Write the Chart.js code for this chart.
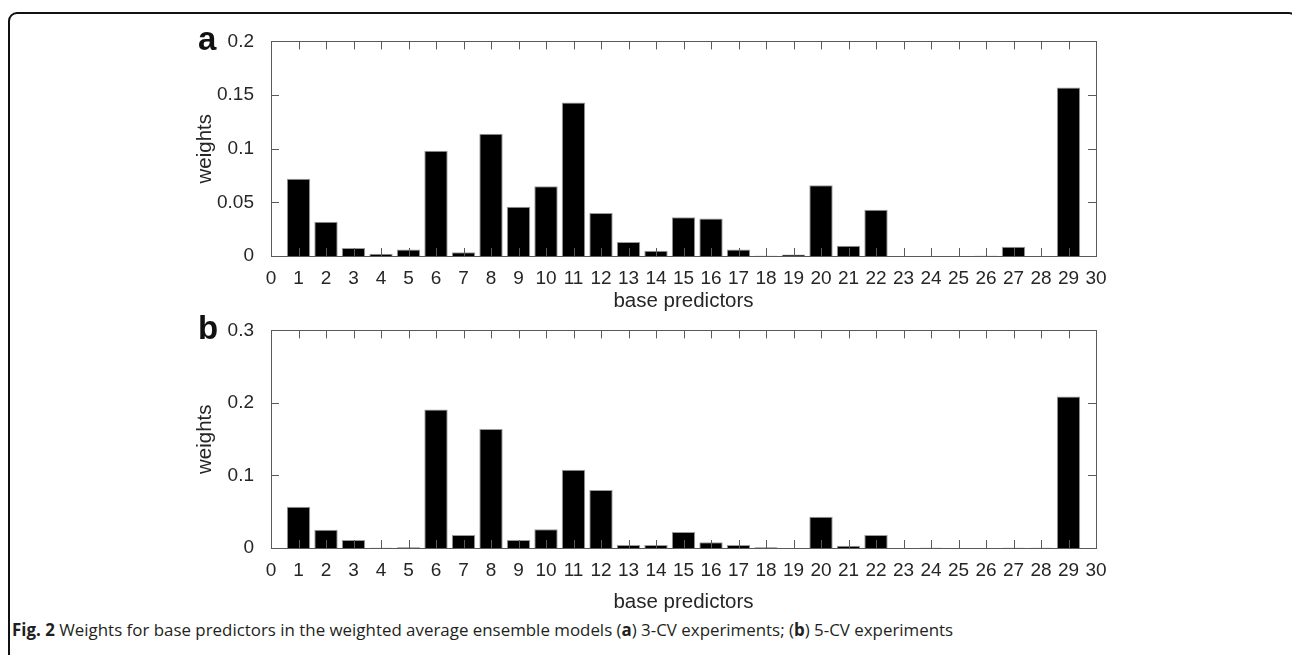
<!DOCTYPE html>
<html>
<head>
<meta charset="utf-8">
<script src="https://cdn.jsdelivr.net/npm/chart.js@4.4.1/dist/chart.umd.min.js"></script>
<style>
  html, body { margin: 0; padding: 0; background: #fff; overflow: hidden; }
  body { width: 1292px; height: 655px; position: relative; }
  .frame {
    position: absolute; left: 8px; top: 12px; width: 1290px; height: 700px;
    border: 2px solid #111; border-radius: 9px; box-sizing: border-box;
  }
  .panel { position: absolute; left: 150px; width: 1000px; }
  .tag {
    position: absolute; font-family: "Liberation Sans", Arial, sans-serif;
    font-weight: bold; font-size: 33px; color: #111; line-height: 1;
  }
  .caption {
    position: absolute; left: 12px; top: 618px; white-space: nowrap;
    font-family: "Open Sans", sans-serif; font-size: 16.9px; color: #231f20;
  }
  .caption b { font-weight: 700; }
</style>
</head>
<body>
<div class="frame"></div>
<div class="panel" style="top:21px;height:294px"><canvas id="chartA"></canvas></div>
<div class="panel" style="top:310px;height:305px"><canvas id="chartB"></canvas></div>
<div class="tag" style="left:198px;top:22px">a</div>
<div class="tag" style="left:198px;top:311px">b</div>
<div class="caption"><b>Fig. 2</b> Weights for base predictors in the weighted average ensemble models (<b>a</b>) 3-CV experiments; (<b>b</b>) 5-CV experiments</div>

<script>
// base predictor index for every bar
const predictors = [1, 2, 3, 4, 5, 6, 7, 8, 9, 10, 11, 12, 13, 14, 15, 16, 17, 18, 19, 20, 21, 22, 23, 24, 25, 26, 27, 28, 29];

// (a) 3-CV experiments
const weightsA = [0.072, 0.032, 0.0075, 0.002, 0.006, 0.098, 0.0035, 0.114, 0.046, 0.065,
  0.143, 0.040, 0.013, 0.005, 0.036, 0.035, 0.006, 0.0003, 0.0015, 0.066,
  0.0095, 0.043, 0, 0, 0, 0.0003, 0.0087, 0, 0.157];

// (b) 5-CV experiments
const weightsB = [0.057, 0.025, 0.011, 0.0005, 0.001, 0.191, 0.018, 0.164, 0.011, 0.026,
  0.108, 0.080, 0.004, 0.004, 0.022, 0.008, 0.004, 0.001, 0, 0.043,
  0.003, 0.018, 0, 0.0005, 0, 0, 0.0005, 0.0005, 0.209];

const xTickLabels = ['0', '1', '2', '3', '4', '5', '6', '7', '8', '9', '10', '11', '12', '13', '14', '15',
  '16', '17', '18', '19', '20', '21', '22', '23', '24', '25', '26', '27', '28', '29', '30'];
const yTicksA = ['0', '0.05', '0.1', '0.15', '0.2'];
const yTicksB = ['0', '0.1', '0.2', '0.3'];

const axisColor = '#5a5a5a';
const textColor = '#262626';
const tickLen = 8;

// MATLAB-like box with inward ticks on all four sides
const boxPlugin = {
  id: 'matlabBox',
  afterDatasetsDraw(chart) {
    const { ctx, chartArea: a, scales: { x, y } } = chart;
    ctx.save();
    ctx.strokeStyle = axisColor;
    ctx.lineWidth = 1;
    ctx.beginPath();
    x.ticks.forEach(t => {
      const px = Math.round(x.getPixelForValue(t.value)) + 0.5;
      ctx.moveTo(px, a.bottom); ctx.lineTo(px, a.bottom - tickLen);
      ctx.moveTo(px, a.top); ctx.lineTo(px, a.top + tickLen);
    });
    y.ticks.forEach(t => {
      const py = Math.round(y.getPixelForValue(t.value)) + 0.5;
      ctx.moveTo(a.left, py); ctx.lineTo(a.left + tickLen, py);
      ctx.moveTo(a.right, py); ctx.lineTo(a.right - tickLen, py);
    });
    ctx.stroke();
    ctx.strokeRect(Math.round(a.left) + 0.5, Math.round(a.top) + 0.5,
      Math.round(a.right - a.left), Math.round(a.bottom - a.top));
    ctx.restore();
  }
};

function drawPanel(id, values, yMax, yStep, yLabels, pad) {
  const ctx = document.getElementById(id).getContext('2d');
  return new Chart(ctx, {
    type: 'bar',
    data: {
      datasets: [{
        data: predictors.map((p, i) => ({ x: p, y: values[i] })),
        backgroundColor: '#000',
        borderColor: '#9a9a9a',
        borderWidth: 1,
        categoryPercentage: 1,
        barPercentage: 0.85
      }]
    },
    plugins: [boxPlugin],
    options: {
      responsive: true,
      maintainAspectRatio: false,
      animation: false,
      layout: { padding: { top: pad.top, right: 54, left: 0, bottom: 0 } },
      plugins: { legend: { display: false }, tooltip: { enabled: false } },
      scales: {
        x: {
          type: 'linear', min: 0, max: 30, offset: false,
          grid: { display: false }, border: { display: false },
          afterFit: s => { s.height = pad.xHeight; },
          ticks: {
            stepSize: 1, autoSkip: false, maxRotation: 0, padding: 3,
            color: textColor, font: { family: 'Liberation Sans', size: 19 },
            callback: (v, i) => xTickLabels[i]
          },
          title: {
            display: true, text: 'base predictors', color: textColor,
            font: { family: 'Liberation Sans', size: 20.5 },
            padding: { top: 0, bottom: pad.titleBottom }
          }
        },
        y: {
          min: 0, max: yMax,
          grid: { display: false }, border: { display: false },
          afterFit: s => { s.width = 121; },
          ticks: {
            stepSize: yStep, padding: 9, color: textColor,
            font: { family: 'Liberation Sans', size: 19 },
            callback: (v, i) => yLabels[i]
          },
          title: {
            display: true, text: 'weights', color: textColor,
            font: { family: 'Liberation Sans', size: 20.5 },
            padding: { top: 43, bottom: 0 }
          }
        }
      }
    }
  });
}

drawPanel('chartA', weightsA, 0.2, 0.05, yTicksA, { top: 12, xHeight: 59, titleBottom: 1 });
drawPanel('chartB', weightsB, 0.3, 0.1, yTicksB, { top: 10, xHeight: 67, titleBottom: 0 });
</script>
</body>
</html>
